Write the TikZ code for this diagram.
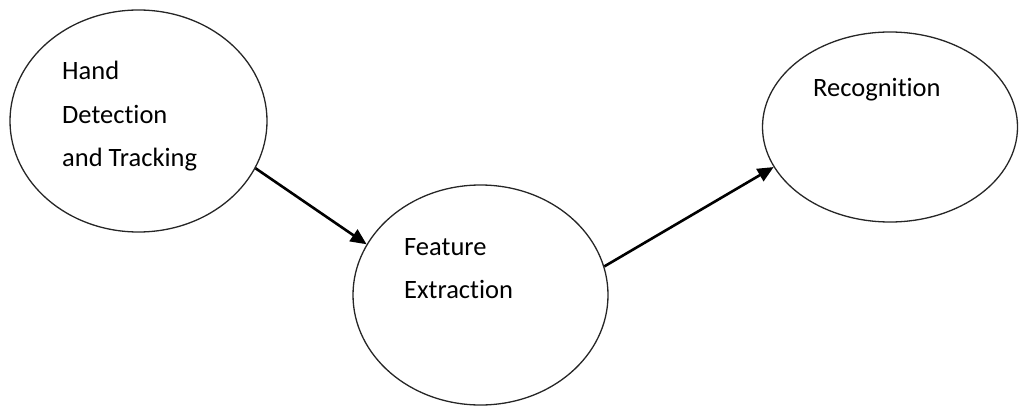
\documentclass[tikz,border=0pt]{standalone}
\usepackage{fontspec}
\setmainfont[Ligatures={NoCommon}]{Carlito}
\usetikzlibrary{shapes.geometric,arrows.meta}
\begin{document}
\begin{tikzpicture}[x=1pt,y=-1pt,
  stage/.style={draw=black!85, line width=1.3pt, ellipse, inner sep=0pt},
  lbl/.style={anchor=base west, inner sep=0pt, font=\fontsize{26.5}{43}\selectfont},
  flow/.style={line width=2.6pt, -{Triangle[length=16pt,width=14pt]}}]
\useasboundingbox (0,0) rectangle (1019,406);
% stages
\node[stage, minimum width=257pt, minimum height=222pt] (hand) at (138.5,121) {};
\node[stage, minimum width=255pt, minimum height=220pt] (feat) at (480.5,295) {};
\node[stage, minimum width=255pt, minimum height=190pt] (rec)  at (890,127) {};
% labels
\node[lbl] (t1) at (62,80) {Hand};
\node[lbl] (t2) at (62,124) {Detection};
\node[lbl] (t3) at (62,167) {and Tracking};
\node[lbl] (t4) at (404,255) {Feature};
\node[lbl] (t5) at (404,298) {Extraction};
\node[lbl] (t6) at (813,97) {Recognition};
% connectors
\draw[flow] (hand.-22) -- (feat.156);
\draw[flow] (feat.13) -- (rec.-161);
\end{tikzpicture}
\end{document}
